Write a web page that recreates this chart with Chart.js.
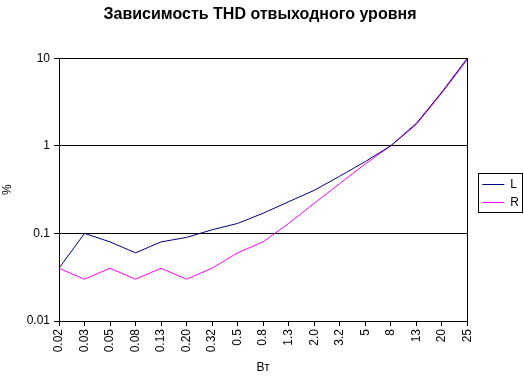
<!DOCTYPE html>
<html><head><meta charset="utf-8">
<script src="https://cdn.jsdelivr.net/npm/chart.js@4/dist/chart.umd.min.js"></script>
<style>html,body{margin:0;padding:0;background:#fff}</style>
</head><body>
<canvas id="c" width="524" height="383"></canvas>
<script>
const categories = ['0.02','0.03','0.05','0.08','0.13','0.20','0.32','0.5','0.8','1.3','2.0','3.2','5','8','13','20','25'];
const seriesL = [0.04, 0.1, 0.08, 0.06, 0.08, 0.09, 0.11, 0.13, 0.17, 0.23, 0.31, 0.45, 0.66, 1.0, 1.8, 4.1, 10];
const seriesR = [0.04, 0.03, 0.04, 0.03, 0.04, 0.03, 0.04, 0.06, 0.08, 0.13, 0.22, 0.37, 0.62, 1.0, 1.75, 4.0, 9.6];
const yTicks = [0.01, 0.1, 1, 10];
const yTickLabels = ['0.01', '0.1', '1', '10'];

const FONT = 'Liberation Sans, Arial, sans-serif';
const LEGEND_DX = 9, LEGEND_DY = 5;

const framePlugin = {
  id: 'frame',
  afterDatasetsDraw(chart) {
    const a = chart.chartArea, ctx = chart.ctx;
    ctx.save();
    ctx.strokeStyle = '#000';
    ctx.lineWidth = 1;
    ctx.strokeRect(Math.round(a.left) + 0.5, Math.round(a.top) + 0.5, Math.round(a.right - a.left), Math.round(a.bottom - a.top));
    ctx.restore();
  }
};
const legendBox = {
  id: 'legendBox',
  beforeDraw(chart) {
    const lg = chart.legend;
    if (!lg || !lg.legendHitBoxes || lg._shiftedBoxes === lg.legendHitBoxes) return;
    lg.left += LEGEND_DX; lg.right += LEGEND_DX;
    lg.top += LEGEND_DY; lg.bottom += LEGEND_DY;
    lg.legendHitBoxes.forEach(b => { b.left += LEGEND_DX; b.top += LEGEND_DY; });
    lg._shiftedBoxes = lg.legendHitBoxes;
  },
  afterDraw(chart) {
    const lg = chart.legend;
    if (!lg || !lg.legendHitBoxes || !lg.legendHitBoxes.length) return;
    let x0 = Infinity, y0 = Infinity, x1 = -Infinity, y1 = -Infinity;
    lg.legendHitBoxes.forEach(b => {
      x0 = Math.min(x0, b.left); y0 = Math.min(y0, b.top);
      x1 = Math.max(x1, b.left + b.width); y1 = Math.max(y1, b.top + b.height);
    });
    const ctx = chart.ctx;
    ctx.save();
    ctx.strokeStyle = '#000';
    ctx.lineWidth = 1;
    ctx.strokeRect(Math.round(x0 - 4) + 0.5, Math.round(y0 - 6) + 0.5, Math.round(x1 - x0 + 7), Math.round(y1 - y0 + 9));
    ctx.restore();
  }
};

new Chart(document.getElementById('c'), {
  type: 'line',
  data: {
    labels: categories,
    datasets: [
      { label: 'L', data: seriesL, borderColor: '#000080', backgroundColor: '#000080', borderWidth: 1, pointRadius: 0, tension: 0, fill: false },
      { label: 'R', data: seriesR, borderColor: '#FF00FF', backgroundColor: '#FF00FF', borderWidth: 1, pointRadius: 0, tension: 0, fill: false }
    ]
  },
  options: {
    responsive: false,
    devicePixelRatio: 1,
    animation: false,
    events: [],
    layout: { padding: { left: 0, right: 4, top: 0, bottom: 6 } },
    plugins: {
      title: {
        display: true,
        text: 'Зависимость THD отвыходного уровня',
        color: '#000',
        font: { family: FONT, size: 16, weight: 'bold' },
        padding: { top: 5, bottom: 34 }
      },
      legend: {
        position: 'right',
        labels: {
          color: '#000',
          font: { family: FONT, size: 12 },
          usePointStyle: true,
          pointStyle: 'line',
          pointStyleWidth: 22,
          boxHeight: 12,
          padding: 6
        }
      },
      tooltip: { enabled: false }
    },
    scales: {
      x: {
        type: 'category',
        offset: false,
        grid: { display: true, drawOnChartArea: false, drawTicks: true, tickLength: 5, color: '#000' },
        border: { display: true, color: '#000' },
        ticks: { color: '#000', font: { family: FONT, size: 12 }, minRotation: 90, maxRotation: 90, autoSkip: false, padding: 3 },
        title: { display: true, text: 'Вт', color: '#000', font: { family: FONT, size: 12 }, padding: { top: 2, bottom: 2 } },
        afterFit(scale) { scale.height = 56; }
      },
      y: {
        type: 'logarithmic',
        min: 0.01,
        max: 10,
        afterBuildTicks(scale) { scale.ticks = yTicks.map(v => ({ value: v })); },
        grid: { display: true, drawTicks: true, tickLength: 5, color: '#000' },
        border: { display: true, color: '#000' },
        ticks: {
          color: '#000',
          font: { family: FONT, size: 12 },
          padding: 4,
          callback(value) { const i = yTicks.indexOf(value); return i >= 0 ? yTickLabels[i] : ''; }
        },
        title: { display: true, text: '%', color: '#000', font: { family: FONT, size: 12 }, padding: { top: 0, bottom: 0 } },
        afterFit(scale) { scale.width = 59; }
      }
    }
  },
  plugins: [framePlugin, legendBox]
});
</script>
</body></html>
